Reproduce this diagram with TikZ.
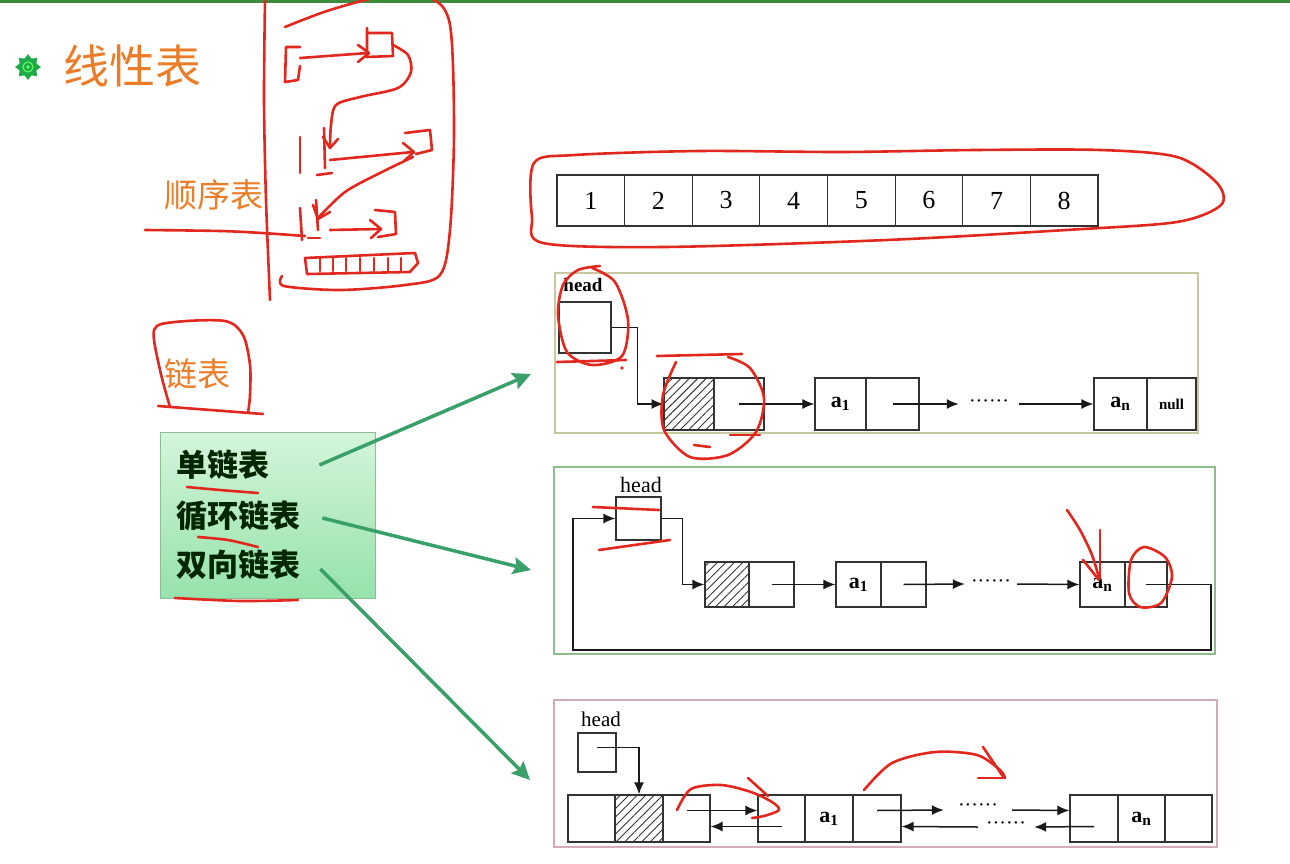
\documentclass[tikz,border=0pt]{standalone}
\usepackage{fontspec}
\setmainfont{Liberation Serif}
\newfontfamily\cjk{Noto Sans CJK SC}
\usetikzlibrary{arrows.meta,patterns.meta}
\definecolor{redink}{RGB}{226,40,30}
\definecolor{orangeT}{RGB}{236,125,40}
\definecolor{garrow}{RGB}{58,160,105}
\definecolor{gboxtop}{RGB}{212,245,218}
\definecolor{gboxbot}{RGB}{150,226,172}
\definecolor{gboxdraw}{RGB}{140,190,150}
\definecolor{frameA}{RGB}{200,200,160}
\definecolor{frameB}{RGB}{140,190,140}
\definecolor{frameC}{RGB}{215,170,185}
\definecolor{topbar}{RGB}{60,140,60}
\definecolor{bulletg}{RGB}{30,170,70}
\newcommand\cellfont{\bfseries\fontsize{22}{24}\selectfont}
\begin{document}
\begin{tikzpicture}[x=1pt,y=-1pt,
  cell/.style={draw=black!80,line width=1.2pt,inner sep=0pt},
  hatch/.style={pattern={Lines[angle=45,distance=6pt,line width=0.9pt]},pattern color=black!80},
  arr/.style={draw=black!90,line width=1.5pt,-{Latex[length=12pt,width=10pt]}},
  ink/.style={draw=redink,line width=2.6pt,line cap=round,line join=round},
  garr/.style={draw=garrow,line width=3.5pt,-{Stealth[length=18pt,width=17pt,inset=3pt]}},
  frame/.style={line width=1.6pt,inner sep=0pt},
  orangetxt/.style={text=orangeT,anchor=west,inner sep=0pt},
  listtxt/.style={anchor=west,inner sep=0pt,text=black!85!green,font={\cjk\bfseries\fontsize{31}{34}\selectfont}},
  dotsnode/.style={font=\fontsize{20}{20}\selectfont,inner ysep=0pt}]
\useasboundingbox (0,0) rectangle (1290,864);
\clip (0,0) rectangle (1290,864);
\fill[white] (0,0) rectangle (1290,864);
\fill[topbar] (0,0) rectangle (1290,3);

% bullet
\node[circle,fill=bulletg,minimum size=18pt,inner sep=0pt] (bul) at (28,67) {};
\fill[bulletg] (bul.center) \foreach \a in {0,22.5,...,337.5} {-- ++(0,0)} ;
\fill[bulletg] plot[samples=17,domain=0:360] ({28+(mod(round(\x/22.5),2)==0 ? 13 : 9)*cos(\x)},{67+(mod(round(\x/22.5),2)==0 ? 13 : 9)*sin(\x)}) -- cycle;
\draw[green!60!white,line width=1pt] (bul.center) circle (5);
\fill[green!60!white] (bul.center) circle (1.8);

% titles
\node[orangetxt,font={\cjk\fontsize{46}{48}\selectfont}] (title) at (63,66) {线性表};
\node[orangetxt,font={\cjk\fontsize{33}{36}\selectfont}] (seq) at (164,195) {顺序表};
\node[orangetxt,font={\cjk\fontsize{33}{36}\selectfont}] (lnk) at (164,374) {链表};

% green box
\node[draw=gboxdraw,line width=1pt,top color=gboxtop,bottom color=gboxbot,minimum width=215pt,minimum height=166pt,inner sep=0pt] (gbox) at (267.5,515) {};
\node[listtxt] (t1) at (176,465) {单链表};
\node[listtxt] (t2) at (176,516) {循环链表};
\node[listtxt] (t3) at (176,565) {双向链表};

% array
\foreach \i in {1,...,8}
  \node[cell,minimum width=67.6pt,minimum height=51pt,font=\fontsize{26}{28}\selectfont] (q\i) at ({557+67.625*(\i-0.5)},200.5) {\i};

% frames
\node[frame,draw=frameA,minimum width=643pt,minimum height=160pt] (fA) at (876.5,353) {};
\node[frame,draw=frameB,minimum width=661pt,minimum height=187pt] (fB) at (884.5,560.5) {};
\node[frame,draw=frameC,minimum width=663pt,minimum height=147pt] (fC) at (885.5,773.5) {};

% green arrows
\coordinate (e1) at (531,374);
\coordinate (e2) at (531,570);
\coordinate (e3) at (530,780);
\draw[garr] ([xshift=50pt]t1.east) -- (e1);
\draw[garr] ([xshift=22pt,yshift=-2pt]t2.east) -- (e2);
\draw[garr] ([xshift=20pt,yshift=-4pt]t3.east) -- (e3);

% singly linked list
\node[font=\bfseries\fontsize{19}{20}\selectfont,inner sep=0pt] (shl) at (583,285) {head};
\node[cell,minimum width=52pt,minimum height=51pt] (sh) at (585,327.5) {};
\node[cell,hatch,minimum width=50pt,minimum height=52pt] (s1a) at (689,404) {};
\node[cell,minimum width=50pt,minimum height=52pt] (s1b) at (739,404) {};
\node[cell,minimum width=51pt,minimum height=52pt,font=\cellfont] (s2a) at (840.5,404) {a\textsubscript{1}};
\node[cell,minimum width=53pt,minimum height=52pt] (s2b) at (892.5,404) {};
\node[dotsnode,inner xsep=10pt] (sd) at (989,404) {······};
\node[cell,minimum width=53pt,minimum height=52pt,font=\cellfont] (s3a) at (1120.5,404) {a\textsubscript{n}};
\node[cell,minimum width=49pt,minimum height=52pt,font=\bfseries\fontsize{15}{16}\selectfont] (s3b) at (1171.5,404) {null};
\draw[arr] (sh.east) -- ++(26,0) |- (s1a.west);
\draw[arr] (s1b.center) -- (s2a.west);
\draw[arr] (s2b.center) -- (sd.west);
\draw[arr] (sd.east) -- (s3a.west);

% circular linked list
\node[font=\fontsize{22}{24}\selectfont,inner sep=0pt] (chl) at (641,485) {head};
\node[cell,minimum width=45pt,minimum height=43pt] (ch) at (638.5,518.5) {};
\node[cell,hatch,minimum width=44pt,minimum height=45pt] (c1a) at (727,584.5) {};
\node[cell,minimum width=45pt,minimum height=45pt] (c1b) at (771.5,584.5) {};
\node[cell,minimum width=45pt,minimum height=45pt,font=\cellfont] (c2a) at (858.5,584.5) {a\textsubscript{1}};
\node[cell,minimum width=45pt,minimum height=45pt] (c2b) at (903.5,584.5) {};
\node[dotsnode,inner xsep=6pt] (cd) at (991,584) {······};
\node[cell,minimum width=45pt,minimum height=45pt,font=\cellfont] (c3a) at (1102.5,584.5) {a\textsubscript{n}};
\node[cell,minimum width=42pt,minimum height=45pt] (c3b) at (1146,584.5) {};
\coordinate (cr) at (1211,650);
\coordinate (cl) at (573,650);
\draw[arr] (ch.east) -- ++(21,0) |- (c1a.west);
\draw[arr] (c1b.center) -- (c2a.west);
\draw[arr] (c2b.center) -- (cd.west);
\draw[arr] (cd.east) -- (c3a.west);
\draw[arr] (c3b.center) -| (cr) -- (cl) |- (ch.west);

% doubly linked list
\node[font=\fontsize{21}{23}\selectfont,inner sep=0pt] (dhl) at (601,719) {head};
\node[cell,minimum width=38pt,minimum height=39pt] (dh) at (597,752.5) {};
\node[cell,minimum width=47pt,minimum height=47pt] (d0a) at (591.5,818.5) {};
\node[cell,hatch,minimum width=48pt,minimum height=47pt] (d0b) at (639,818.5) {};
\node[cell,minimum width=47pt,minimum height=47pt] (d0c) at (686.5,818.5) {};
\node[cell,minimum width=47pt,minimum height=47pt] (d1a) at (781.5,818.5) {};
\node[cell,minimum width=48pt,minimum height=47pt,font=\cellfont] (d1b) at (829,818.5) {a\textsubscript{1}};
\node[cell,minimum width=48pt,minimum height=47pt] (d1c) at (877,818.5) {};
\node[cell,minimum width=48pt,minimum height=47pt] (d2a) at (1094,818.5) {};
\node[cell,minimum width=47pt,minimum height=47pt,font=\cellfont] (d2b) at (1141.5,818.5) {a\textsubscript{n}};
\node[cell,minimum width=47pt,minimum height=47pt] (d2c) at (1188.5,818.5) {};
\node[dotsnode,inner xsep=14pt] (du) at (978,808) {······};
\node[dotsnode,inner xsep=8pt] (dl) at (1006,826) {······};
\draw[arr] ([yshift=5pt]dh.center) -| (d0b.north);
\draw[arr] ([yshift=8pt]d0c.center) -- ([yshift=8pt]d1a.west);
\draw[arr] ([yshift=-8pt]d1a.center) -- ([yshift=-8pt]d0c.east);
\draw[arr] ([yshift=8pt]d1c.center) -- (du.west |- 0,810);
\draw[arr] (du.east |- 0,810) -- ([yshift=8pt]d2a.west);
\draw[arr] ([yshift=-8pt]d2a.center) -- (dl.east |- 0,827);
\draw[arr] (dl.west |- 0,827) -- ([yshift=-8pt]d1c.east);

% ---- red handwriting ----
% left sketch
\draw[ink] plot[smooth] coordinates {(265,0) (264,100) (266,200) (270,300)};
\draw[ink] plot[smooth] coordinates {(285,27) (330,10) (385,-4) (430,-2) (450,25) (454,130) (450,230) (440,275) (405,285) (340,290) (284,286) (282,276)};
\draw[ink] (300,47) -- (286,47) -- (285,82) -- (298,80) -- (300,66);
\draw[ink] (300,58) -- (368,53);
\draw[ink] (358,45) -- (369,53) -- (358,62);
\draw[ink] (367,28) -- (367,57) -- (393,56) -- (392,33) -- (368,33);
\draw[ink] plot[smooth] coordinates {(393,45) (408,55) (411,72) (398,88) (360,97) (336,105) (331,125) (330,147)};
\draw[ink] (323,137) -- (330,148) -- (338,139);
\draw[ink] (300,137) -- (300,173);
\draw[ink] (324,128) -- (325,168);
\draw[ink] (317,175) -- (332,173);
\draw[ink] (330,160) -- (413,152);
\draw[ink] (403,143) -- (414,152) -- (404,161);
\draw[ink] (405,133) -- (430,130) -- (432,150) -- (416,154);
\draw[ink] plot[smooth] coordinates {(413,157) (380,173) (345,192) (318,218)};
\draw[ink] (313,205) -- (318,219) -- (330,212);
\draw[ink] (300,208) -- (302,240);
\draw[ink] (316,200) -- (318,230);
\draw[ink] (308,238) -- (320,238);
\draw[ink] (330,230) -- (380,229);
\draw[ink] (370,220) -- (381,229) -- (371,238);
\draw[ink] (375,210) -- (395,212) -- (396,234) -- (378,237);
\draw[ink] plot[smooth] coordinates {(145,230) (220,231) (262,233) (305,236)};
\draw[ink] (305,258) -- (415,253) -- (418,263) -- (410,272) -- (307,274) -- cycle;
\foreach \x in {320,333,346,360,374,388,401} \draw[ink] (\x,258) -- (\x,271);
% array loop
\draw[ink] plot[smooth cycle] coordinates {(534,163) (575,155) (700,151) (842,152) (976,150) (1100,150) (1177,157) (1217,183) (1221,205) (1177,222) (1066,230) (887,240) (664,247) (543,243) (532,217)};
% around lianbiao
\draw[ink] plot[smooth] coordinates {(170,407) (160,370) (154,330) (175,322) (225,321) (243,335) (250,365) (250,395) (248,413)};
\draw[ink] (158,406) -- (263,414);
% underlines in green box
\draw[ink] plot[smooth] coordinates {(187,487) (220,490) (258,493)};
\draw[ink] plot[smooth] coordinates {(198,537) (228,540) (258,547)};
\draw[ink] plot[smooth] coordinates {(175,598) (240,601) (298,600)};
% singly list marks
\draw[ink] plot[smooth] coordinates {(592,268) (615,282) (628,320) (622,356) (592,365) (567,352) (558,315) (563,285) (578,270) (600,266)};
\draw[ink] (557,362) -- (626,360);
\fill[redink] (622,368) circle (1.8);
\draw[ink] (657,356) -- (742,354);
\draw[ink] plot[smooth] coordinates {(676,362) (663,395) (664,430) (690,457) (728,455) (756,432) (764,398) (750,368) (728,357)};
\draw[ink] (730,435) -- (760,435);
\draw[ink] (694,445) -- (710,447);
% circular list marks
\draw[ink] (593,507) -- (659,510);
\draw[ink] (599,550) -- (670,540);
\draw[ink] plot[smooth] coordinates {(1067,510) (1080,530) (1092,555) (1099,578)};
\draw[ink] (1100,530) -- (1100,578);
\draw[ink] (1083,560) -- (1099,580);
\draw[ink] plot[smooth cycle] coordinates {(1144,547) (1165,557) (1172,577) (1161,603) (1140,607) (1129,593) (1131,560)};
% doubly list marks
\draw[ink] plot[smooth] coordinates {(677,810) (691,789) (721,785) (751,792) (772,802) (779,810) (764,816) (752,818)};
\draw[ink] (748,778) -- (768,796);
\draw[ink] plot[smooth] coordinates {(864,790) (892,763) (935,752) (977,755) (1000,770) (1005,778)};
\draw[ink] (983,747) -- (1004,778);
\draw[ink] (978,778) -- (1004,778);
\end{tikzpicture}
\end{document}
